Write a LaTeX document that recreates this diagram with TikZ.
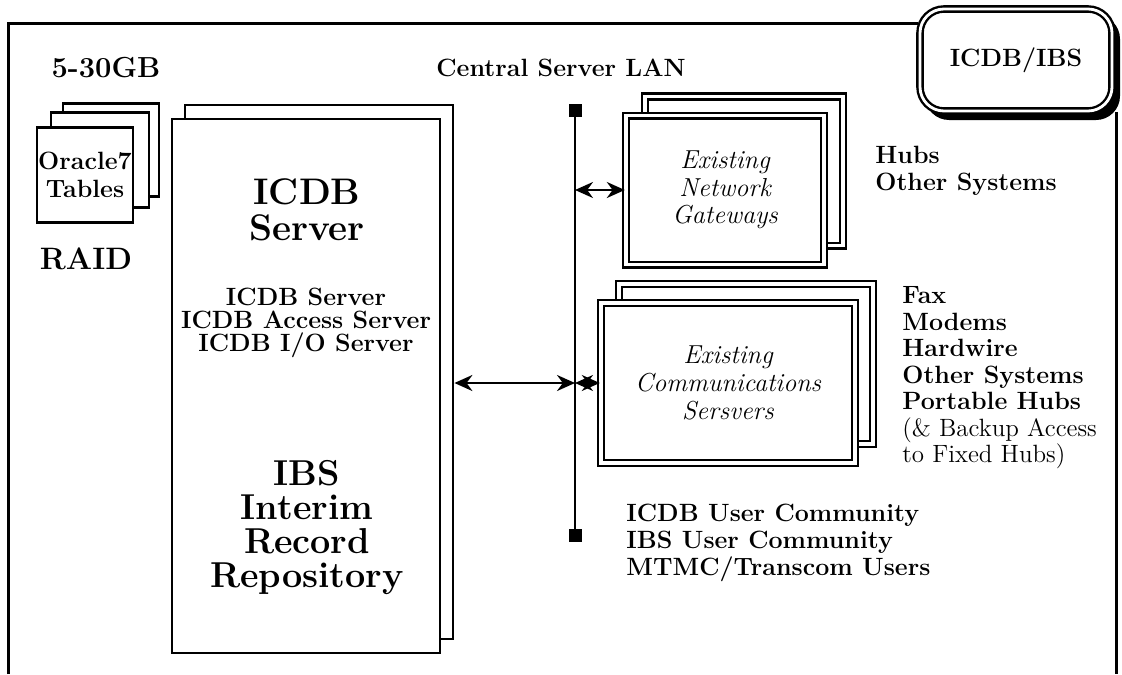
\documentclass[tikz,border=0pt]{standalone}
\usepackage{tikz}
\usetikzlibrary{positioning, calc, arrows.meta}

\begin{document}
\begin{tikzpicture}[x=0.5pt, y=-0.5pt,
        % styles for the pieces of the picture
        sheet/.style={draw, line width=1.4pt, fill=white, inner sep=0pt, align=center},
        gatebox/.style={draw, line width=1.2pt, double, double distance=1.6pt, fill=white, inner sep=0pt},
        bigtext/.style={font=\fontsize{18.5}{18}\selectfont\bfseries, align=center},
        midtext/.style={font=\fontsize{12.5}{11.5}\selectfont\bfseries, align=center},
        listtext/.style={font=\fontsize{12.5}{13.3}\selectfont\bfseries, align=left, anchor=north west, inner sep=0pt},
        gatetext/.style={font=\fontsize{13}{13.8}\selectfont\itshape, align=center},
        lanend/.style={draw, fill=black, minimum size=6pt, inner sep=0pt},
        link/.style={line width=1.2pt, {Stealth[length=9pt,width=8pt]}-{Stealth[length=9pt,width=8pt]}}
    ]
    \useasboundingbox (0,0) rectangle (1122,674);

    % --- OUTER FRAME ---
    \draw[line width=1.5pt] (8,674) -- (8,24) -- (918,24);
    \draw[line width=1.5pt] (1116,112) -- (1116,674);

    % title box with shadow
    \fill[rounded corners=12pt] (925,15) rectangle (1120,120);
    \node[draw, line width=1.2pt, double, double distance=1.4pt, fill=white, rounded corners=12pt,
          minimum width=96pt, minimum height=51pt, font=\fontsize{12.5}{15}\selectfont\bfseries] (title) at (1016,60) {ICDB/IBS};

    % --- RAID STACK ---
    \node[font=\fontsize{14.5}{17}\selectfont\bfseries] (size) at (106,68) {5-30GB};
    \node[sheet, minimum width=48pt, minimum height=46.5pt] (disk3) at (111,150) {};
    \node[sheet, minimum width=49pt, minimum height=47.5pt] (disk2) at (100,160) {};
    \node[sheet, minimum width=48pt, minimum height=47.5pt,
          font=\fontsize{12.5}{14}\selectfont\bfseries] (disk1) at (85,175) {Oracle7\\Tables};
    \node[font=\fontsize{15.5}{17}\selectfont\bfseries] (raid) at (86,259) {RAID};

    % --- ICDB SERVER ---
    \node[sheet, minimum width=134pt, minimum height=267pt] (srvback) at (319,372) {};
    \node[sheet, minimum width=134pt, minimum height=267pt] (srv) at (306,386) {};
    \node[bigtext] (srvname) at (307,210) {ICDB\\Server};
    \node[midtext] (procs) at (306,323) {ICDB Server\\ICDB Access Server\\ICDB I/O Server};
    \node[bigtext, font=\fontsize{18}{17}\selectfont\bfseries] (irr) at (307,528) {IBS\\Interim\\Record\\Repository};

    % --- CENTRAL SERVER LAN ---
    \node[midtext] (lanlabel) at (561,68) {Central Server LAN};
    \node[lanend] (lantop) at (575,110) {};
    \node[lanend] (lanbot) at (575,535) {};
    \draw[line width=1.4pt] (lantop) -- (lanbot);

    % --- GATEWAYS ---
    \node[gatebox, minimum width=99pt, minimum height=74.5pt] (gwback) at (744,171) {};
    \node[gatebox, minimum width=99pt, minimum height=74.5pt, gatetext] (gw) at (725,190) {Existing\\Network\\Gateways};
    \node[listtext] (hubs) at (875,146) {Hubs\\Other Systems};

    % --- COMMUNICATIONS SERVERS ---
    \node[gatebox, minimum width=127pt, minimum height=80pt] (csback) at (746,364) {};
    \node[gatebox, minimum width=127pt, minimum height=80pt, gatetext] (cs) at (728,383) {Existing\\Communications\\Sersvers};
    \node[listtext] (commlist) at (902,286) {Fax\\Modems\\Hardwire\\Other Systems\\Portable Hubs};
    \node[font=\fontsize{12.5}{13.3}\selectfont, align=left, anchor=north west, inner sep=0pt] (backup) at (902,417) {(\& Backup Access\\to Fixed Hubs)};

    % --- USERS ---
    \node[listtext] (users) at (626,504) {ICDB User Community\\IBS User Community\\MTMC/Transcom Users};

    % --- LINKS ---
    \coordinate (lanA) at (lantop |- gw.west);
    \coordinate (lanB) at (lantop |- cs.west);
    \draw[link] (lanA) -- (gw.west);
    \draw[link] (lanB) -- (cs.west);
    \draw[link] (srvback.east |- lanB) -- (lanB);
\end{tikzpicture}
\end{document}
